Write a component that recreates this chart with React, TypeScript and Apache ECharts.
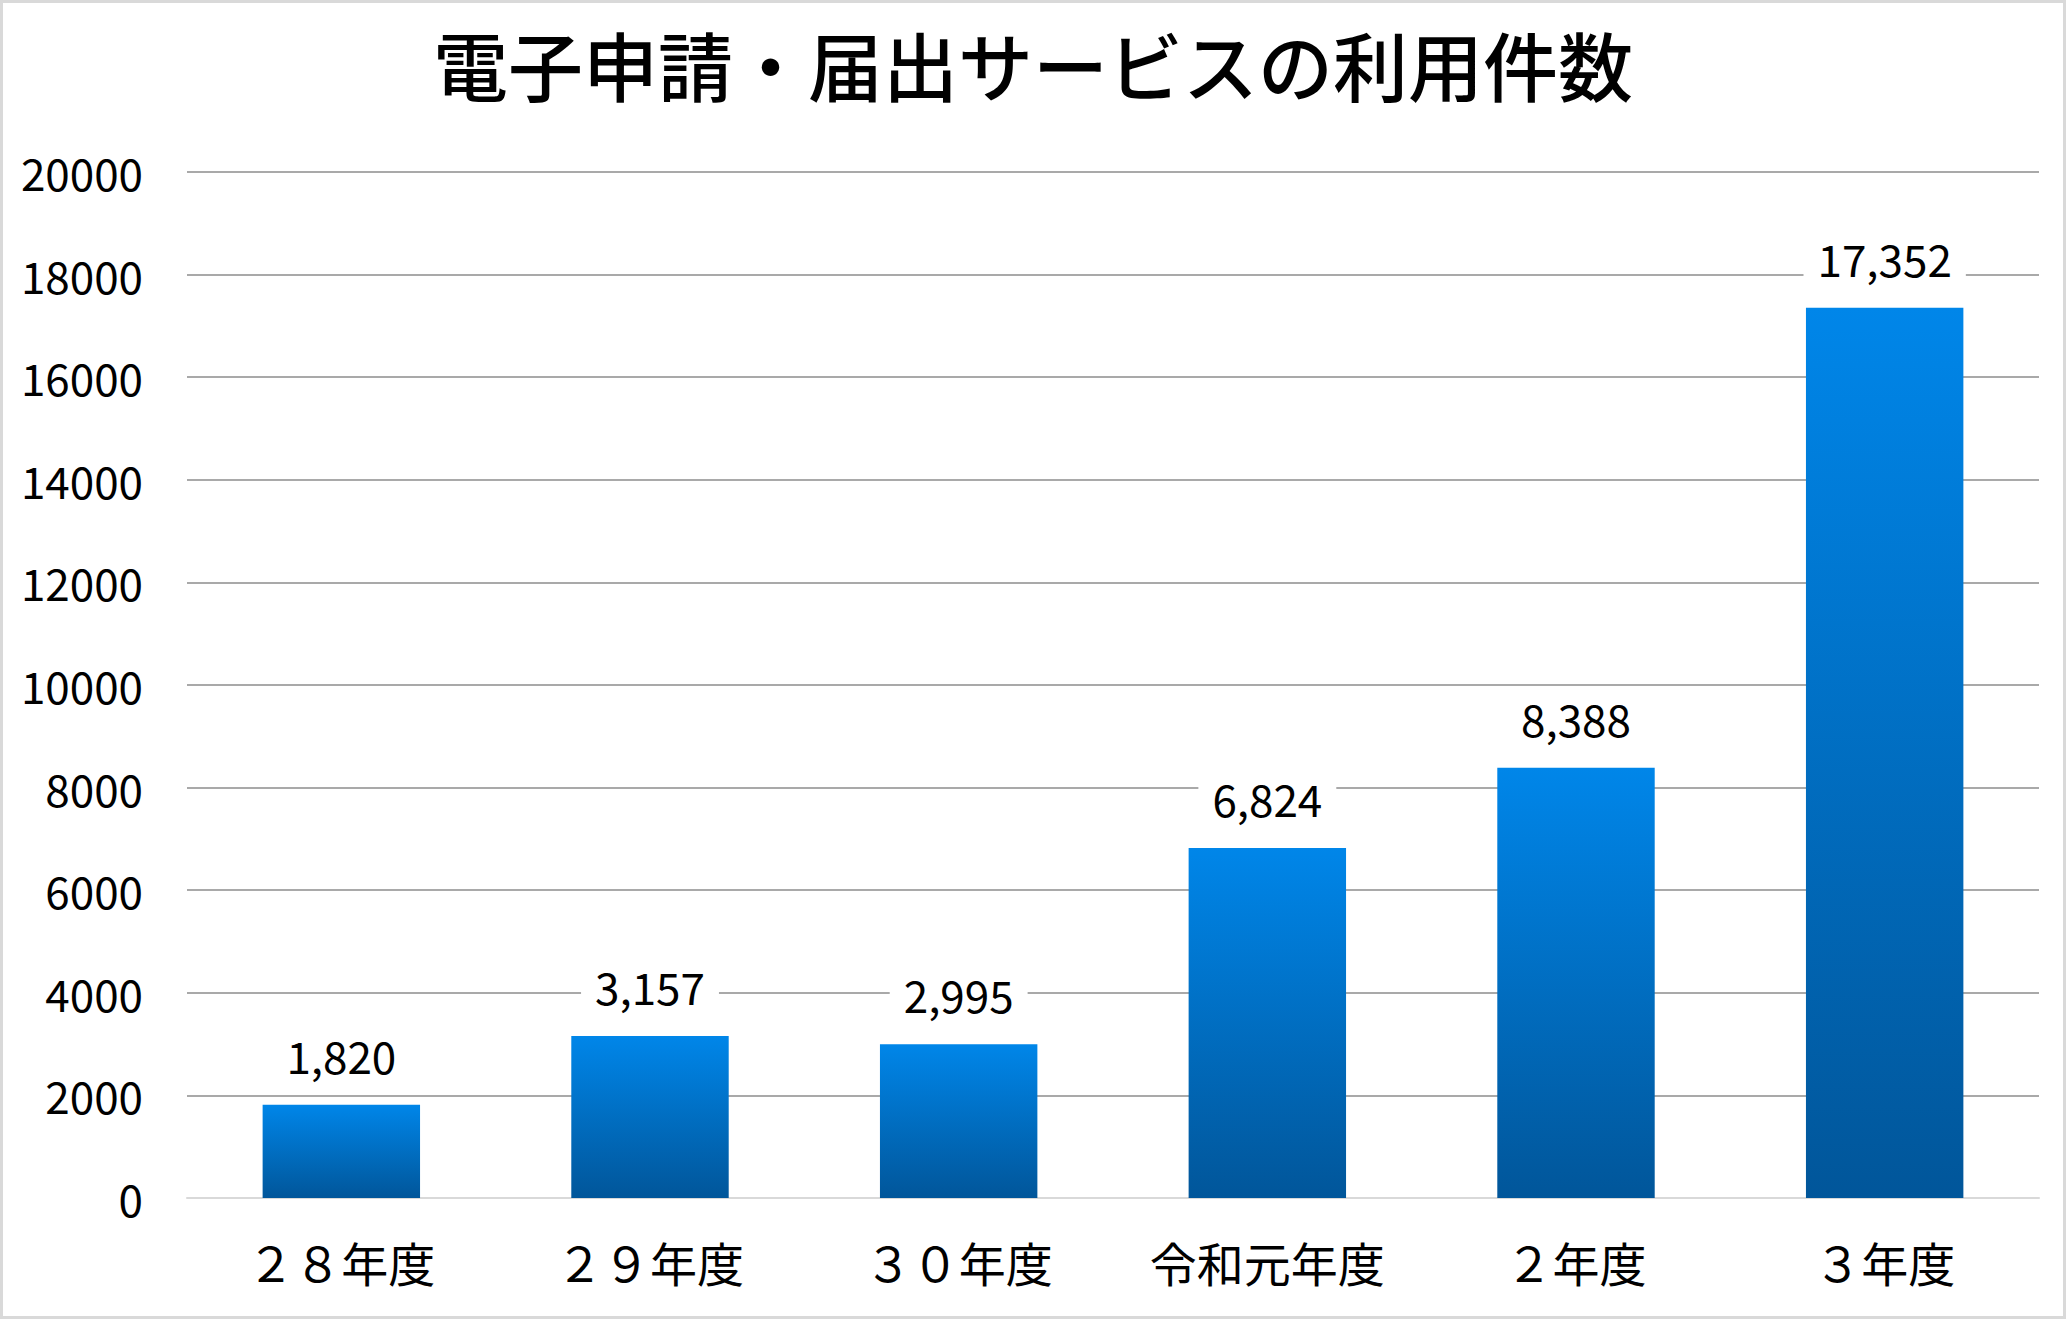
import React, { useEffect, useRef } from "react";
import * as echarts from "echarts";

const categories = ["２８年度", "２９年度", "３０年度", "令和元年度", "２年度", "３年度"];
const values = [1820, 3157, 2995, 6824, 8388, 17352];
const titleText = "電子申請・届出サービスの利用件数";

const FONT = "'Noto Sans CJK JP', 'Noto Sans', sans-serif";

export default function App() {
  const ref = useRef<HTMLDivElement>(null);
  useEffect(() => {
    document.body.style.margin = "0";
    const chart = echarts.init(ref.current!, undefined, { renderer: "svg" });
    chart.setOption({
      animation: false,
      backgroundColor: "#ffffff",
      title: {
        text: titleText,
        left: "center",
        top: 18,
        textStyle: { fontFamily: FONT, fontSize: 75, fontWeight: 500, color: "#000" },
      },
      grid: { left: 184, right: 24, top: 169, bottom: 118, containLabel: false },
      xAxis: {
        type: "category",
        data: categories,
        axisLine: { show: true, lineStyle: { color: "#d9d9d9", width: 2 } },
        axisTick: { show: false },
        axisLabel: {
          fontFamily: FONT,
          fontSize: 47,
          color: "#000",
          margin: 40,
          interval: 0,
          hideOverlap: false,
        },
      },
      yAxis: {
        type: "value",
        min: 0,
        max: 20000,
        interval: 2000,
        axisLine: { show: false },
        axisTick: { show: false },
        axisLabel: {
          fontFamily: FONT,
          fontSize: 44,
          color: "#000",
          margin: 44,
          formatter: (v: number) => String(v),
        },
        splitLine: { lineStyle: { color: "#8c8c8c", width: 1.5 } },
      },
      series: [
        {
          type: "bar",
          data: values,
          barCategoryGap: "49%",
          itemStyle: {
            color: new echarts.graphic.LinearGradient(0, 0, 0, 1, [
              { offset: 0, color: "#0086e9" },
              { offset: 1, color: "#01569a" },
            ]),
          },
          label: {
            show: true,
            position: "top",
            distance: 26,
            formatter: (p: any) => p.value.toLocaleString("en-US"),
            fontFamily: FONT,
            fontSize: 44,
            color: "#000",
            backgroundColor: "#ffffff",
            padding: [2, 14],
          },
        },
      ],
    });
    return () => chart.dispose();
  }, []);
  return (
    <div
      ref={ref}
      style={{ width: 2066, height: 1319, border: "3px solid #d9d9d9", boxSizing: "border-box" }}
    />
  );
}
